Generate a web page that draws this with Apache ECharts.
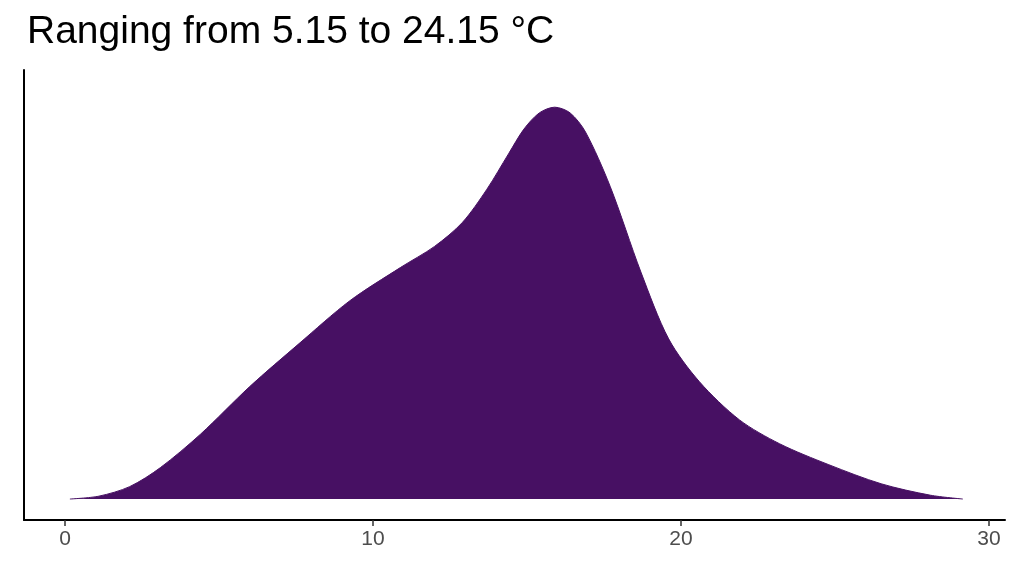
<!DOCTYPE html>
<html><head><meta charset="utf-8">
<script src="https://cdn.jsdelivr.net/npm/echarts@6/dist/echarts.min.js"></script>
<style>html,body{margin:0;background:#fff}#c{width:1024px;height:576px}</style>
</head><body><div id="c"></div>
<script>
// temperature (°C) and relative density height
const temps = [0.16, 1.1, 2.1, 3.1, 4.4, 6.0, 7.6, 9.25, 10.9, 12.0, 12.9, 13.7, 14.4, 14.9, 15.4, 15.9, 16.4, 16.9, 17.7, 18.7, 19.6, 20.6, 21.9, 23.2, 24.8, 26.5, 28.1, 29.15];
const density = [0, 3, 13, 33, 68, 118, 163, 208, 243, 265, 290, 325, 362, 388, 405, 411, 405, 385, 328, 238, 168, 123, 83, 58, 36, 16, 4, 0];
const xTicks = [0, 10, 20, 30];

const chart = echarts.init(document.getElementById('c'));
chart.setOption({
  animation: false,
  title: {
    text: 'Ranging from 5.15 to 24.15 °C',
    left: 22, top: 8,
    textStyle: { fontFamily: 'Liberation Sans', fontSize: 39, fontWeight: 'normal', color: '#000' }
  },
  grid: { left: 24, right: 19, top: 70, bottom: 56 },
  xAxis: {
    type: 'value', min: -1.33, max: 30.52,
    splitLine: { show: false },
    axisLine: { onZero: false, lineStyle: { color: '#000', width: 2 } },
    axisTick: { customValues: xTicks, length: 6, lineStyle: { color: '#333', width: 1.5 } },
    axisLabel: { customValues: xTicks, color: '#4d4d4d', fontSize: 21, fontFamily: 'Liberation Sans', margin: 9 }
  },
  yAxis: {
    type: 'value', min: -22, max: 450,
    splitLine: { show: false },
    axisLine: { show: true, onZero: false, lineStyle: { color: '#000', width: 2 } },
    axisTick: { show: false }, axisLabel: { show: false }
  },
  series: [{
    type: 'line', smooth: 0.3, symbol: 'none',
    data: temps.map((t, i) => [t, density[i]]),
    lineStyle: { color: '#471063', width: 1 },
    areaStyle: { color: '#471063', opacity: 1 }
  }]
});
</script></body></html>
